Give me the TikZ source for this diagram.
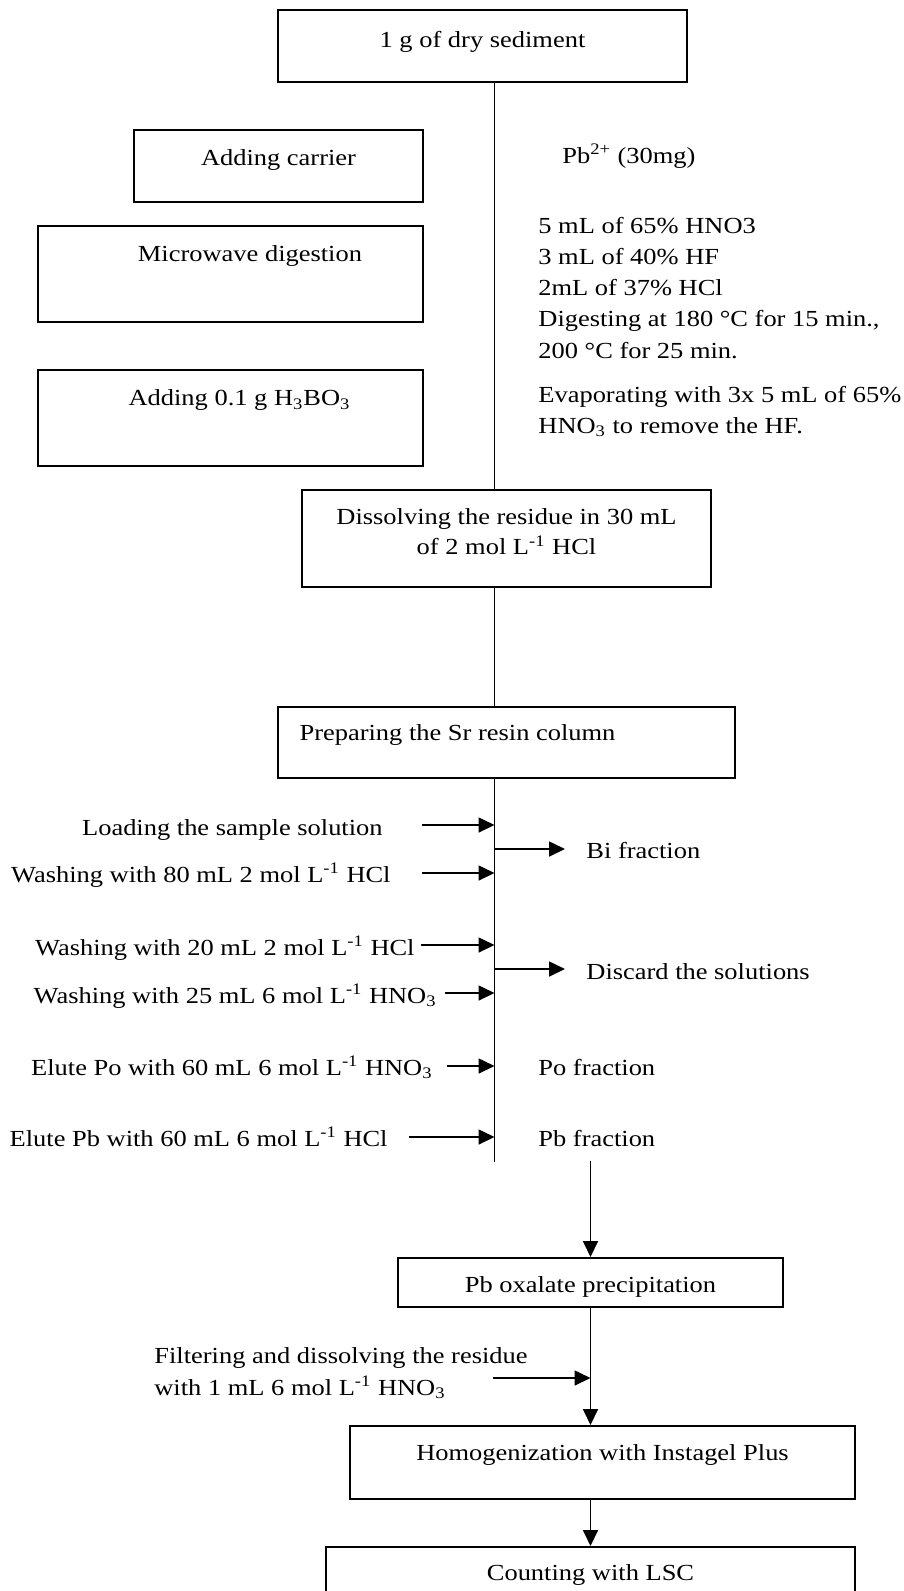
\documentclass[tikz,border=0pt]{standalone}
\usepackage{fontspec}
\setmainfont{Liberation Serif}[FakeStretch=1.15]
\usetikzlibrary{arrows.meta}

\begin{document}
\begin{tikzpicture}[x=0.5pt, y=-0.5pt,
		font=\fontsize{11.5}{15.7}\selectfont,
		box/.style={draw, line width=0.75pt, inner xsep=0pt, inner ysep=0pt, anchor=north},
		txt/.style={inner sep=0pt},
		arr/.style={line width=0.85pt, -{Triangle[length=8pt, width=7.5pt]}},
		colline/.style={line width=0.65pt}]
	\useasboundingbox (0,0) rectangle (904,1591);
	\coordinate (col) at (494.5,0);

	% digestion
	\node[box, minimum width=204.5pt, text height=19pt, text depth=17pt] (sed) at (482.5,9) {1 g of dry sediment};
	\node[box, minimum width=144.5pt, text height=18pt, text depth=18pt] (carrier) at (278.5,129) {Adding carrier};
	\node[box, minimum width=192.5pt, text height=18pt, text depth=30pt] (micro) at (230.5,225) {\hspace*{19.5pt}Microwave digestion};
	\node[box, minimum width=192.5pt, text height=18pt, text depth=30pt] (boric) at (230.5,369) {\hspace*{9pt}Adding 0.1 g H\textsubscript{3}BO\textsubscript{3}};

	% multi-line texts sit on their last line
	\node[txt, anchor=base west] (pbcar) at (562,163) {Pb\textsuperscript{2+} (30mg)};
	\node[txt, anchor=base west, align=left, font=\fontsize{11.5}{15.6}\selectfont] (reag) at (538,358)
		{5 mL of 65\% HNO3\\3 mL of 40\% HF\\2mL of 37\% HCl\\Digesting at 180 °C for 15 min.,\\200 °C for 25 min.};
	\node[txt, anchor=base west, align=left, font=\fontsize{11.5}{15.5}\selectfont] (evap) at (538,433)
		{Evaporating with 3x 5 mL of 65\%\\HNO\textsubscript{3} to remove the HF.};

	\node[box, minimum width=204.5pt, align=center, text height=32.5pt, text depth=16pt, font=\fontsize{11.5}{15}\selectfont] (diss) at (506.5,489)
		{Dissolving the residue in 30 mL\\of 2 mol L\textsuperscript{-1} HCl};
	\node[box, minimum width=228.5pt, text height=17pt, text depth=18.5pt] (prep) at (506.5,706) {Preparing the Sr resin column\hspace*{49pt}};

	\draw[colline] (sed.south -| col) -- (diss.north -| col);
	\draw[colline] (diss.south -| col) -- (prep.north -| col);
	\coordinate (colend) at (494.5,1162);
	\draw[colline] (prep.south -| col) -- (colend);

	% Sr resin column
	\node[txt, anchor=base east] (load) at (383,835) {Loading the sample solution};
	\node[txt, anchor=base east] (wash80) at (391,882) {Washing with 80 mL 2 mol L\textsuperscript{-1} HCl};
	\node[txt, anchor=base east] (wash20) at (415,955) {Washing with 20 mL 2 mol L\textsuperscript{-1} HCl};
	\node[txt, anchor=base east] (wash25) at (437,1003) {Washing with 25 mL 6 mol L\textsuperscript{-1} HNO\textsubscript{3}};
	\node[txt, anchor=base east] (elpo) at (433,1075) {Elute Po with 60 mL 6 mol L\textsuperscript{-1} HNO\textsubscript{3}};
	\node[txt, anchor=base east] (elpb) at (388,1146) {Elute Pb with 60 mL 6 mol L\textsuperscript{-1} HCl};

	\coordinate (in1) at (422,825);
	\coordinate (in2) at (422,873);
	\coordinate (in3) at (421,945);
	\coordinate (in4) at (445,993);
	\coordinate (in5) at (447,1066);
	\coordinate (in6) at (409,1137);
	\foreach \c in {in1,in2,in3,in4,in5,in6}
		\draw[arr] (\c) -- (\c -| col);

	\node[txt, anchor=base west] (bi) at (586,858) {Bi fraction};
	\node[txt, anchor=base west] (discard) at (586,979) {Discard the solutions};
	\node[txt, anchor=base west] (pofrac) at (538,1075) {Po fraction};
	\node[txt, anchor=base west] (pbfrac) at (538,1146) {Pb fraction};
	\coordinate (out1) at (565,849);
	\coordinate (out2) at (565,969);
	\draw[arr] (out1 -| col) -- (out1);
	\draw[arr] (out2 -| col) -- (out2);

	% Pb counting
	\node[box, minimum width=192.5pt, text height=17.5pt, text depth=7pt] (oxal) at (590.5,1257) {Pb oxalate precipitation};
	\node[box, minimum width=252.5pt, text height=17.5pt, text depth=19pt] (homog) at (602.5,1425) {Homogenization with Instagel Plus};
	\node[box, minimum width=264.5pt, text height=17pt, text depth=30pt] (count) at (590.5,1546) {Counting with LSC};
	\node[txt, anchor=base west, align=left, font=\fontsize{11.5}{16}\selectfont] (filt) at (154,1395)
		{Filtering and dissolving the residue\\with 1 mL 6 mol L\textsuperscript{-1} HNO\textsubscript{3}};

	\draw[arr, shorten <=7pt] (pbfrac.south -| oxal.north) -- (oxal.north);
	\draw[arr] (oxal.south) -- (oxal.south |- homog.north);
	\coordinate (in7) at (493,1378);
	\draw[arr] (in7) -- (in7 -| oxal.south);
	\draw[arr] (count.north |- homog.south) -- (count.north);
\end{tikzpicture}
\end{document}
